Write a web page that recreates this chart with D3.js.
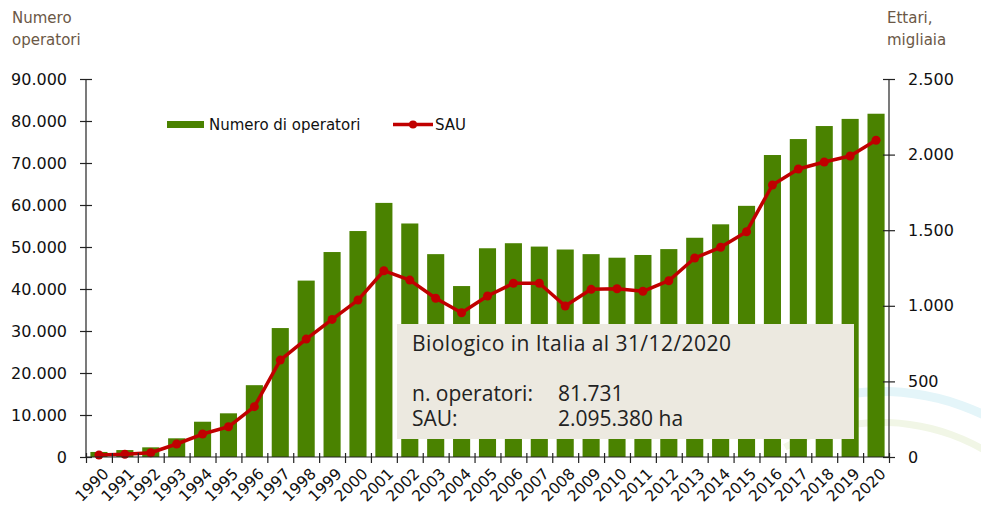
<!DOCTYPE html>
<html>
<head>
<meta charset="utf-8">
<script src="https://cdn.jsdelivr.net/npm/d3@7"></script>
<style>
  body { margin: 0; background: #fff; }
  text { font-family: "DejaVu Sans", Verdana, sans-serif; }
</style>
</head>
<body>
<div id="cont"></div>
<script>
// Data
var years = d3.range(1990, 2021).map(String);
var operatori = [1200, 1650, 2300, 4450, 8400, 10400, 17100, 30700, 42000, 48800,
                 53800, 60500, 55600, 48300, 40700, 49700, 50900, 50100, 49400, 48300,
                 47450, 48100, 49500, 52200, 55400, 59800, 71900, 75700, 78800, 80500, 81731];
var sau = [13, 18, 28, 86, 152, 200, 333, 641, 780, 910,
           1038, 1232, 1170, 1050, 954, 1065, 1149, 1149, 999, 1109,
           1113, 1096, 1166, 1316, 1387, 1490, 1799, 1905, 1951, 1991, 2095];
var leftTicks = d3.range(0, 90001, 10000);
var rightTicks = d3.range(0, 2501, 500);
var infoLines = ["Biologico in Italia al 31/12/2020", "n. operatori:", "SAU:"];
var infoValues = ["81.731", "2.095.380 ha"];

var W = 981, H = 505;
var pLeft = 86, pRight = 889, pTop = 79, pBottom = 457;
var green = "#4a8200", red = "#c00000";
var fmt = function(v) { return d3.format(",")(v).replace(/,/g, "."); };

var svg = d3.select("#cont").append("svg")
    .attr("width", W)
    .attr("height", H);

var x = d3.scaleBand().domain(years).range([pLeft, pRight]).paddingInner(0.34).paddingOuter(0.17);
var yL = d3.scaleLinear().domain([0, 90000]).range([pBottom, pTop]);
var yR = d3.scaleLinear().domain([0, 2500]).range([pBottom, pTop]);

// faint background arcs, bottom right
var arcs = svg.append("g");
arcs.append("path")
    .attr("d", d3.arc()({innerRadius: 229, outerRadius: 238, startAngle: -0.5, endAngle: 1.2}))
    .attr("transform", "translate(882,625)")
    .attr("fill", "#e4f5f9");
arcs.append("path")
    .attr("d", d3.arc()({innerRadius: 199, outerRadius: 206, startAngle: -0.5, endAngle: 1.2}))
    .attr("transform", "translate(882,625)")
    .attr("fill", "#f1f6e6");

// bars
svg.append("g").selectAll("rect")
    .data(operatori)
    .join("rect")
    .attr("x", function(d, i) { return x(years[i]); })
    .attr("width", x.bandwidth())
    .attr("y", function(d) { return yL(d); })
    .attr("height", function(d) { return pBottom - yL(d); })
    .attr("fill", green);

// info box
var box = svg.append("g")
    .style("font-family", "'Open Sans', sans-serif")
    .style("font-size", "21px");
box.append("rect")
    .attr("x", 397).attr("y", 324)
    .attr("width", 457).attr("height", 115)
    .attr("fill", "#ece9e0");
box.append("text")
    .attr("x", 412).attr("y", 351)
    .style("font-family", "'Open Sans', sans-serif")
    .style("letter-spacing", "0.45px")
    .attr("fill", "#222")
    .text(infoLines[0]);
[infoLines[1], infoLines[2]].forEach(function(t, i) {
  box.append("text")
      .attr("x", 412).attr("y", 401 + i * 25)
      .style("font-family", "'Open Sans', sans-serif")
      .attr("fill", "#222")
      .text(t);
  box.append("text")
      .attr("x", 558).attr("y", 401 + i * 25)
      .style("font-family", "'Open Sans', sans-serif")
      .attr("fill", "#222")
      .text(infoValues[i]);
});

// SAU line
var cx = function(d, i) { return x(years[i]) + x.bandwidth() / 2; };
svg.append("path")
    .datum(sau)
    .attr("fill", "none")
    .attr("stroke", red)
    .attr("stroke-width", 3.5)
    .attr("stroke-linejoin", "round")
    .attr("d", d3.line().x(cx).y(function(d) { return yR(d); }));
svg.append("g").selectAll("circle")
    .data(sau)
    .join("circle")
    .attr("cx", cx)
    .attr("cy", function(d) { return yR(d); })
    .attr("r", 4.5)
    .attr("fill", red);

// axes
var axL = svg.append("g")
    .attr("transform", "translate(" + pLeft + ",0)")
    .call(d3.axisLeft(yL).tickValues(leftTicks).tickFormat(fmt).tickSize(6).tickPadding(13));
axL.selectAll(".tick line").attr("x2", -6).attr("x1", 6);

var axR = svg.append("g")
    .attr("transform", "translate(" + pRight + ",0)")
    .call(d3.axisRight(yR).tickValues(rightTicks).tickFormat(fmt).tickSize(6).tickPadding(13));
axR.selectAll(".tick line").attr("x1", -6).attr("x2", 6);

var xb = d3.scaleLinear().domain([0, years.length]).range([pLeft, pRight]);
var axB = svg.append("g")
    .attr("transform", "translate(0," + pBottom + ")")
    .call(d3.axisBottom(xb).tickValues(d3.range(0, years.length + 1)).tickFormat("").tickSize(6));
axB.selectAll(".tick line").attr("y1", -4).attr("y2", 6);

[axL, axR, axB].forEach(function(a) {
  a.select(".domain").attr("stroke", "#222").attr("stroke-width", 1.2);
  a.selectAll(".tick line").attr("stroke", "#222").attr("stroke-width", 1.2);
  a.selectAll("text")
      .style("font-family", "'DejaVu Sans', Verdana, sans-serif")
      .style("font-size", "16px")
      .attr("fill", "#111");
});
axL.select(".domain").attr("d", "M0," + pTop + "V" + pBottom);
axR.select(".domain").attr("d", "M0," + pTop + "V" + pBottom);
axB.select(".domain").attr("d", "M" + pLeft + ",0H" + pRight);

// x labels, rotated
svg.append("g").selectAll("text")
    .data(years)
    .join("text")
    .attr("transform", function(d) {
      return "translate(" + (x(d) + x.bandwidth() / 2 + 3) + "," + (pBottom + 10) + ") rotate(-45)";
    })
    .attr("text-anchor", "end")
    .attr("dy", "0.7em")
    .style("font-size", "15.5px")
    .attr("fill", "#111")
    .text(function(d) { return d; });

// axis titles
var titleColor = "#6b5846";
svg.append("text").attr("x", 12).attr("y", 23).style("font-size", "15px").attr("fill", titleColor).text("Numero");
svg.append("text").attr("x", 12).attr("y", 45).style("font-size", "15px").attr("fill", titleColor).text("operatori");
svg.append("text").attr("x", 887).attr("y", 23).style("font-size", "15px").attr("fill", titleColor).text("Ettari,");
svg.append("text").attr("x", 887).attr("y", 45).style("font-size", "15px").attr("fill", titleColor).text("migliaia");

// legend
var lg = svg.append("g");
lg.append("rect").attr("x", 167).attr("y", 121).attr("width", 37).attr("height", 7).attr("fill", green);
lg.append("text").attr("x", 209).attr("y", 130).style("font-size", "15px").attr("fill", "#111").text("Numero di operatori");
lg.append("line").attr("x1", 393).attr("x2", 433).attr("y1", 124.5).attr("y2", 124.5)
    .attr("stroke", red).attr("stroke-width", 3.5);
lg.append("circle").attr("cx", 413).attr("cy", 124.5).attr("r", 4).attr("fill", red);
lg.append("text").attr("x", 435).attr("y", 130).style("font-size", "15px").attr("fill", "#111").text("SAU");
</script>
</body>
</html>
